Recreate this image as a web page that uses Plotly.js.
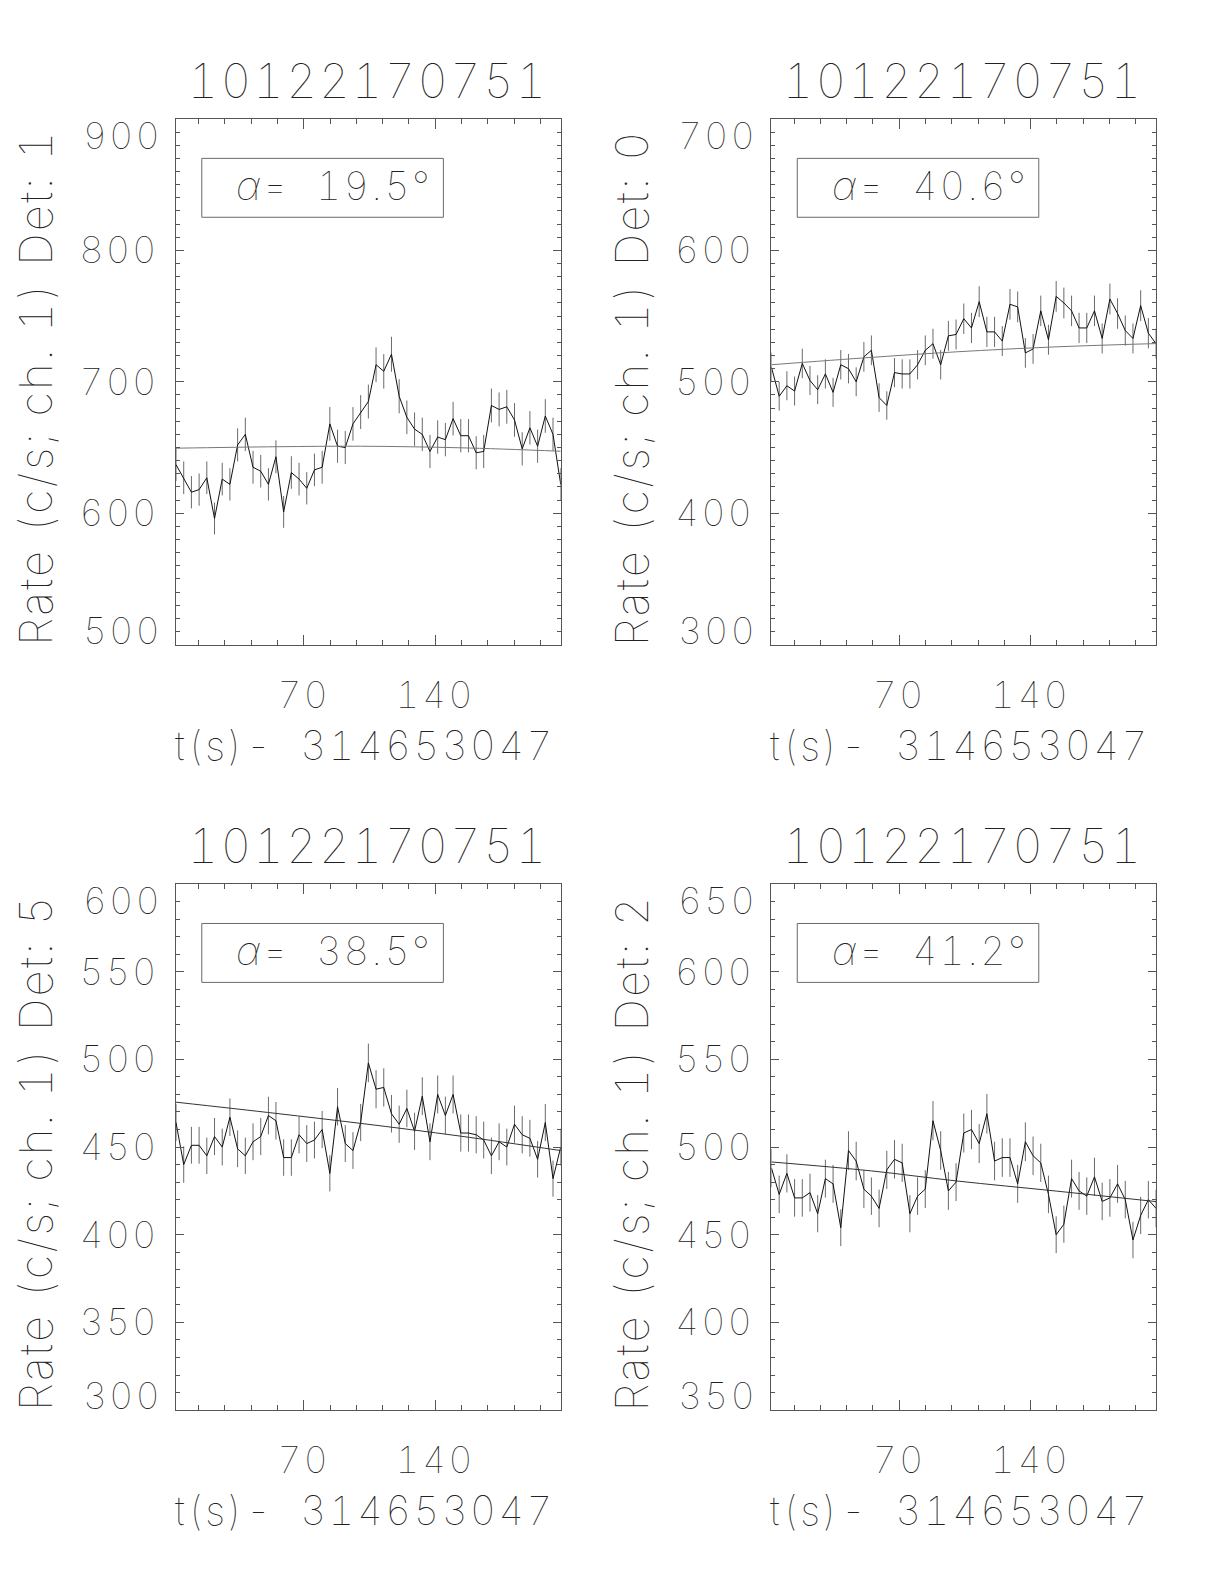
<!DOCTYPE html>
<html><head><meta charset="utf-8">
<script src="https://cdn.plot.ly/plotly-3.0.1.min.js"></script>
<style>html,body{margin:0;padding:0;background:#fff} svg text{letter-spacing:2.5px;font-feature-settings:"tnum" 1}</style>
</head><body>
<div id="chart" style="width:1224px;height:1584px"></div>
<script>
// ---- data ----
const burstId = '10122170751';
const timeOffset = '314653047';
const timeSec = [2.0, 6.1, 10.2, 14.3, 18.4, 22.5, 26.6, 30.7, 34.8, 38.9, 43.0, 47.1, 51.2, 55.2, 59.3, 63.4, 67.5, 71.6, 75.7, 79.8, 83.9, 88.0, 92.1, 96.2, 100.3, 104.4, 108.5, 112.6, 116.7, 120.8, 124.9, 129.0, 133.1, 137.2, 141.3, 145.4, 149.5, 153.6, 157.7, 161.8, 165.8, 169.9, 174.0, 178.1, 182.2, 186.3, 190.4, 194.5, 198.6, 202.7, 206.8];

const detLabels = ['1', '0', '5', '2'];
const alphaDeg = ['19.5', '40.6', '38.5', '41.2'];

const rateDet1 = [637, 627, 616, 618, 627, 596, 626, 622, 652, 660, 635, 632, 622, 643, 601, 631, 626, 619, 633, 635, 668, 651, 650, 668, 677, 685, 713, 708, 721, 689, 673, 664, 660, 647, 658, 656, 672, 659, 659, 646, 647, 682, 679, 681, 671, 649, 665, 651, 674, 660, 622];
const errDet1 = [12.5, 12.4, 12.3, 12.3, 12.4, 12.1, 12.4, 12.3, 12.6, 12.7, 12.5, 12.4, 12.3, 12.5, 12.1, 12.4, 12.4, 12.3, 12.4, 12.5, 12.8, 12.6, 12.6, 12.8, 12.9, 12.9, 13.2, 13.1, 13.3, 13.0, 12.8, 12.7, 12.7, 12.6, 12.7, 12.7, 12.8, 12.7, 12.7, 12.6, 12.6, 12.9, 12.9, 12.9, 12.8, 12.6, 12.7, 12.6, 12.8, 12.7, 12.4];

const rateDet0 = [511, 489, 497, 493, 514, 501, 494, 506, 492, 513, 510, 500, 519, 524, 488, 482, 507, 506, 506, 513, 524, 529, 513, 535, 536, 548, 541, 561, 538, 538, 531, 559, 557, 522, 525, 554, 532, 565, 560, 554, 541, 541, 554, 533, 563, 552, 539, 533, 558, 537, 529];
const errDet0 = [11.2, 10.9, 11.0, 11.0, 11.2, 11.1, 11.0, 11.1, 11.0, 11.2, 11.2, 11.0, 11.3, 11.3, 10.9, 10.8, 11.1, 11.1, 11.1, 11.2, 11.3, 11.4, 11.2, 11.4, 11.4, 11.6, 11.5, 11.7, 11.5, 11.5, 11.4, 11.7, 11.7, 11.3, 11.3, 11.6, 11.4, 11.7, 11.7, 11.6, 11.5, 11.5, 11.6, 11.4, 11.7, 11.6, 11.5, 11.4, 11.7, 11.5, 11.4];

const rateDet5 = [464, 440, 451, 451, 445, 456, 450, 467, 449, 445, 453, 456, 468, 465, 444, 444, 457, 452, 454, 460, 435, 473, 452, 448, 464, 498, 483, 484, 469, 463, 472, 459, 479, 453, 480, 468, 480, 458, 458, 457, 454, 445, 453, 450, 463, 457, 455, 443, 464, 432, 450];
const errDet5 = [10.6, 10.4, 10.5, 10.5, 10.4, 10.6, 10.5, 10.7, 10.5, 10.4, 10.5, 10.6, 10.7, 10.7, 10.4, 10.4, 10.6, 10.5, 10.5, 10.6, 10.3, 10.7, 10.5, 10.5, 10.6, 11.0, 10.9, 10.9, 10.7, 10.6, 10.7, 10.6, 10.8, 10.5, 10.8, 10.7, 10.8, 10.6, 10.6, 10.6, 10.5, 10.4, 10.5, 10.5, 10.6, 10.6, 10.5, 10.4, 10.6, 10.3, 10.5];

const rateDet2 = [488, 473, 485, 471, 471, 474, 462, 482, 479, 454, 498, 492, 476, 472, 465, 487, 493, 491, 462, 472, 476, 515, 498, 475, 480, 508, 510, 502, 519, 492, 494, 494, 479, 503, 495, 491, 473, 450, 456, 482, 475, 472, 483, 469, 471, 479, 470, 447, 461, 470, 465];
const errDet2 = [10.9, 10.7, 10.9, 10.7, 10.7, 10.8, 10.6, 10.8, 10.8, 10.5, 11.0, 11.0, 10.8, 10.7, 10.7, 10.9, 11.0, 10.9, 10.6, 10.7, 10.8, 11.2, 11.0, 10.8, 10.8, 11.1, 11.2, 11.1, 11.3, 11.0, 11.0, 11.0, 10.8, 11.1, 11.0, 10.9, 10.7, 10.5, 10.6, 10.8, 10.8, 10.7, 10.9, 10.7, 10.7, 10.8, 10.7, 10.4, 10.6, 10.7, 10.7];

const fitTime = [2.0, 55.2, 100.3, 153.6, 206.8];
const fitDet1 = [649.5, 650.6, 651.0, 649.8, 647.2];
const fitDet0 = [513.0, 518.6, 522.8, 526.6, 529.1];
const fitDet5 = [475.6, 469.2, 463.5, 456.2, 448.0];
const fitDet2 = [491.5, 486.4, 480.7, 474.9, 468.9];

const yRanges = [[500, 900], [300, 700], [300, 600], [350, 650]];
const yTickVals = [[500, 600, 700, 800, 900], [300, 400, 500, 600, 700], [300, 350, 400, 450, 500, 550, 600], [350, 400, 450, 500, 550, 600, 650]];
const yMinorStep = [10, 10, 10, 10];
const xTickVals = [70, 140];
const xMinorStep = 14;

// ---- drawing ----
const rates = [rateDet1, rateDet0, rateDet5, rateDet2];
const errs = [errDet1, errDet0, errDet5, errDet2];
const fits = [fitDet1, fitDet0, fitDet5, fitDet2];

const FONT = 'Inter, DejaVu Sans';
const W = 100;
const TXT = '#222222';
const AX = '#555555';

const xDomains = [[0.1438, 0.4581], [0.6303, 0.9445], [0.1438, 0.4581], [0.6303, 0.9445]];
const yDomains = [[0.5930, 0.9249], [0.5930, 0.9249], [0.1098, 0.4419], [0.1098, 0.4419]];

const traces = [];
const layout = {
  width: 1224, height: 1584,
  margin: {l: 0, r: 0, t: 0, b: 0},
  paper_bgcolor: '#ffffff', plot_bgcolor: '#ffffff',
  showlegend: false,
  font: {family: FONT, color: TXT, weight: W},
  annotations: [], shapes: []
};

for (let k = 0; k < 4; k++) {
  const sx = k === 0 ? '' : String(k + 1);
  const xa = 'x' + sx, ya = 'y' + sx;
  traces.push({
    type: 'scatter', mode: 'lines', x: timeSec, y: rates[k],
    xaxis: xa, yaxis: ya,
    line: {color: '#111111', width: 1},
    error_y: {type: 'data', array: errs[k], visible: true, color: '#6a6a6a', thickness: 1, width: 0},
    hoverinfo: 'skip'
  });
  traces.push({
    type: 'scatter', mode: 'lines', x: fitTime, y: fits[k],
    xaxis: xa, yaxis: ya,
    line: {color: k < 2 ? '#777777' : '#333333', width: 1, shape: 'spline'},
    hoverinfo: 'skip'
  });
  const yr = yRanges[k];
  const tv = yTickVals[k];
  layout['xaxis' + sx] = {
    domain: xDomains[k], anchor: ya, range: [timeSec[0], timeSec[timeSec.length - 1]],
    tickmode: 'array', tickvals: xTickVals, ticktext: xTickVals.map(String),
    ticks: 'inside', ticklen: 10, tickwidth: 1, tickcolor: AX,
    showline: true, linecolor: AX, linewidth: 1, mirror: 'ticks',
    showgrid: false, zeroline: false,
    tickfont: {size: 37, family: FONT, color: TXT, weight: W},
    ticklabelstandoff: 18,
    minor: {ticks: 'inside', ticklen: 5, tickcolor: AX, tickmode: 'linear', tick0: 0, dtick: xMinorStep, showgrid: false}
  };
  layout['yaxis' + sx] = {
    domain: yDomains[k], anchor: xa, range: yr,
    tickmode: 'array', tickvals: tv,
    ticktext: tv.map((v, i) => (i === 0 || i === tv.length - 1) ? '' : String(v)),
    ticks: 'inside', ticklen: 8, tickwidth: 1, tickcolor: AX,
    showline: true, linecolor: AX, linewidth: 1, mirror: 'ticks',
    showgrid: false, zeroline: false,
    tickfont: {size: 37, family: FONT, color: TXT, weight: W},
    ticklabelstandoff: 9,
    minor: {ticks: 'inside', ticklen: 4, tickcolor: AX, tickmode: 'linear', tick0: 0, dtick: yMinorStep[k], showgrid: false}
  };
  const xd = xa + ' domain', yd = ya + ' domain';
  // end tick labels, kept inside the frame height
  layout.annotations.push({xref: xd, yref: yd, x: 0, y: 1, xanchor: 'right', yanchor: 'top', xshift: -12, yshift: 8,
    text: String(tv[tv.length - 1]), showarrow: false, font: {size: 37, family: FONT, color: TXT, weight: W}});
  layout.annotations.push({xref: xd, yref: yd, x: 0, y: 0, xanchor: 'right', yanchor: 'bottom', xshift: -12, yshift: -10,
    text: String(tv[0]), showarrow: false, font: {size: 37, family: FONT, color: TXT, weight: W}});
  // panel title
  layout.annotations.push({xref: xd, yref: yd, x: 0.5, y: 1, xanchor: 'center', yanchor: 'bottom', yshift: 8,
    text: burstId, showarrow: false, font: {size: 47, family: FONT, color: TXT, weight: W}});
  // x title
  layout.annotations.push({xref: xd, yref: yd, x: 0.49, y: 0, xanchor: 'center', yanchor: 'top', yshift: -74,
    text: 't(s)-\u00a0\u00a0' + timeOffset, showarrow: false, font: {size: 40, family: FONT, color: TXT, weight: W}});
  // y title
  layout.annotations.push({xref: xd, yref: yd, x: 0, y: 0.489, xanchor: 'center', yanchor: 'middle', xshift: -140, textangle: -90,
    text: 'Rate (c/s; ch. 1) Det: ' + detLabels[k], showarrow: false, font: {size: 45, family: FONT, color: TXT, weight: W}});
  // alpha box
  layout.shapes.push({type: 'rect', xref: xd, yref: yd, x0: 0.067, x1: 0.695, y0: 0.813, y1: 0.925,
    line: {color: '#6a6a6a', width: 1}, fillcolor: 'rgba(0,0,0,0)'});
  layout.annotations.push({xref: xd, yref: yd, x: 0.411, y: 0.873, xanchor: 'center', yanchor: 'middle',
    text: '<i>\u03b1</i>=\u00a0\u00a0' + alphaDeg[k] + '\u00b0', showarrow: false, font: {size: 39, family: FONT, color: TXT, weight: W}});
}

Plotly.newPlot('chart', traces, layout, {staticPlot: true, displayModeBar: false});
</script>
</body></html>
